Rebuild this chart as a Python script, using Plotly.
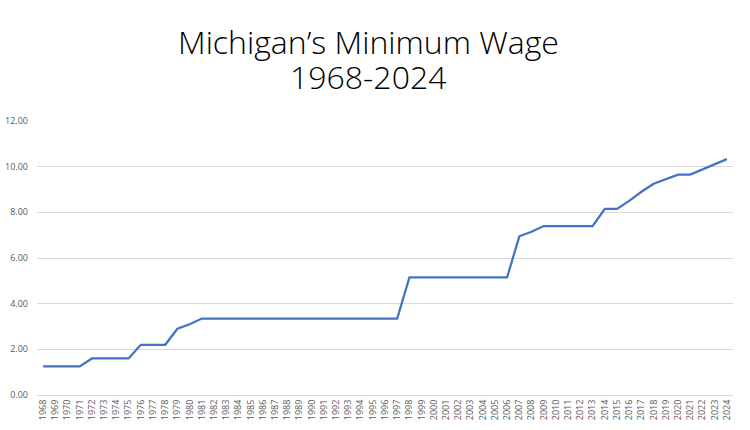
import plotly.graph_objects as go

years = [str(y) for y in range(1968, 2025)]
wages = [1.25, 1.25, 1.25, 1.25,
         1.60, 1.60, 1.60, 1.60,
         2.20, 2.20, 2.20,
         2.90, 3.10,
         3.35, 3.35, 3.35, 3.35, 3.35, 3.35, 3.35, 3.35, 3.35, 3.35,
         3.35, 3.35, 3.35, 3.35, 3.35, 3.35, 3.35,
         5.15, 5.15, 5.15, 5.15, 5.15, 5.15, 5.15, 5.15, 5.15,
         6.95, 7.15,
         7.40, 7.40, 7.40, 7.40, 7.40,
         8.15, 8.15, 8.50, 8.90, 9.25, 9.45, 9.65, 9.65, 9.87, 10.10, 10.33]
y_ticks = [0, 2, 4, 6, 8, 10, 12]
title_lines = ["Michigan’s Minimum Wage", "1968-2024"]

fig = go.Figure()
fig.add_trace(go.Scatter(x=years, y=wages, mode="lines",
                         line=dict(color="#4472C4", width=2.25),
                         hoverinfo="x+y"))

for txt, ypos in zip(title_lines, [1.290, 1.161]):
    fig.add_annotation(text=txt, xref="paper", yref="paper",
                       x=0.4756, y=ypos, xanchor="center", yanchor="middle",
                       showarrow=False,
                       font=dict(family="Open Sans, Liberation Sans, sans-serif", size=32,
                                 color="#000000", weight=300))

fig.update_layout(
    width=750, height=430,
    paper_bgcolor="white", plot_bgcolor="white",
    margin=dict(l=37, r=17, t=121, b=35, autoexpand=False),
    showlegend=False,
    font=dict(family="Open Sans, Liberation Sans, sans-serif", color="#595959"),
)
fig.update_xaxes(type="category", range=[-0.5, len(years) - 0.5],
                 tickangle=-90, tickfont=dict(size=9, color="#595959"),
                 showgrid=False, showline=True, linecolor="#D9D9D9",
                 ticks="", automargin=False)
fig.update_yaxes(range=[0, 12], tickvals=y_ticks, tickformat=".2f",
                 tickfont=dict(size=9, color="#595959"),
                 showgrid=True, gridcolor="#D9D9D9", gridwidth=1,
                 zeroline=False, showline=False, ticks="", ticklabelstandoff=8,
                 automargin=False)

fig.write_html("out.html",
               config={"displayModeBar": False},
               post_script="document.body.style.margin='0';document.body.style.overflow='hidden';")
